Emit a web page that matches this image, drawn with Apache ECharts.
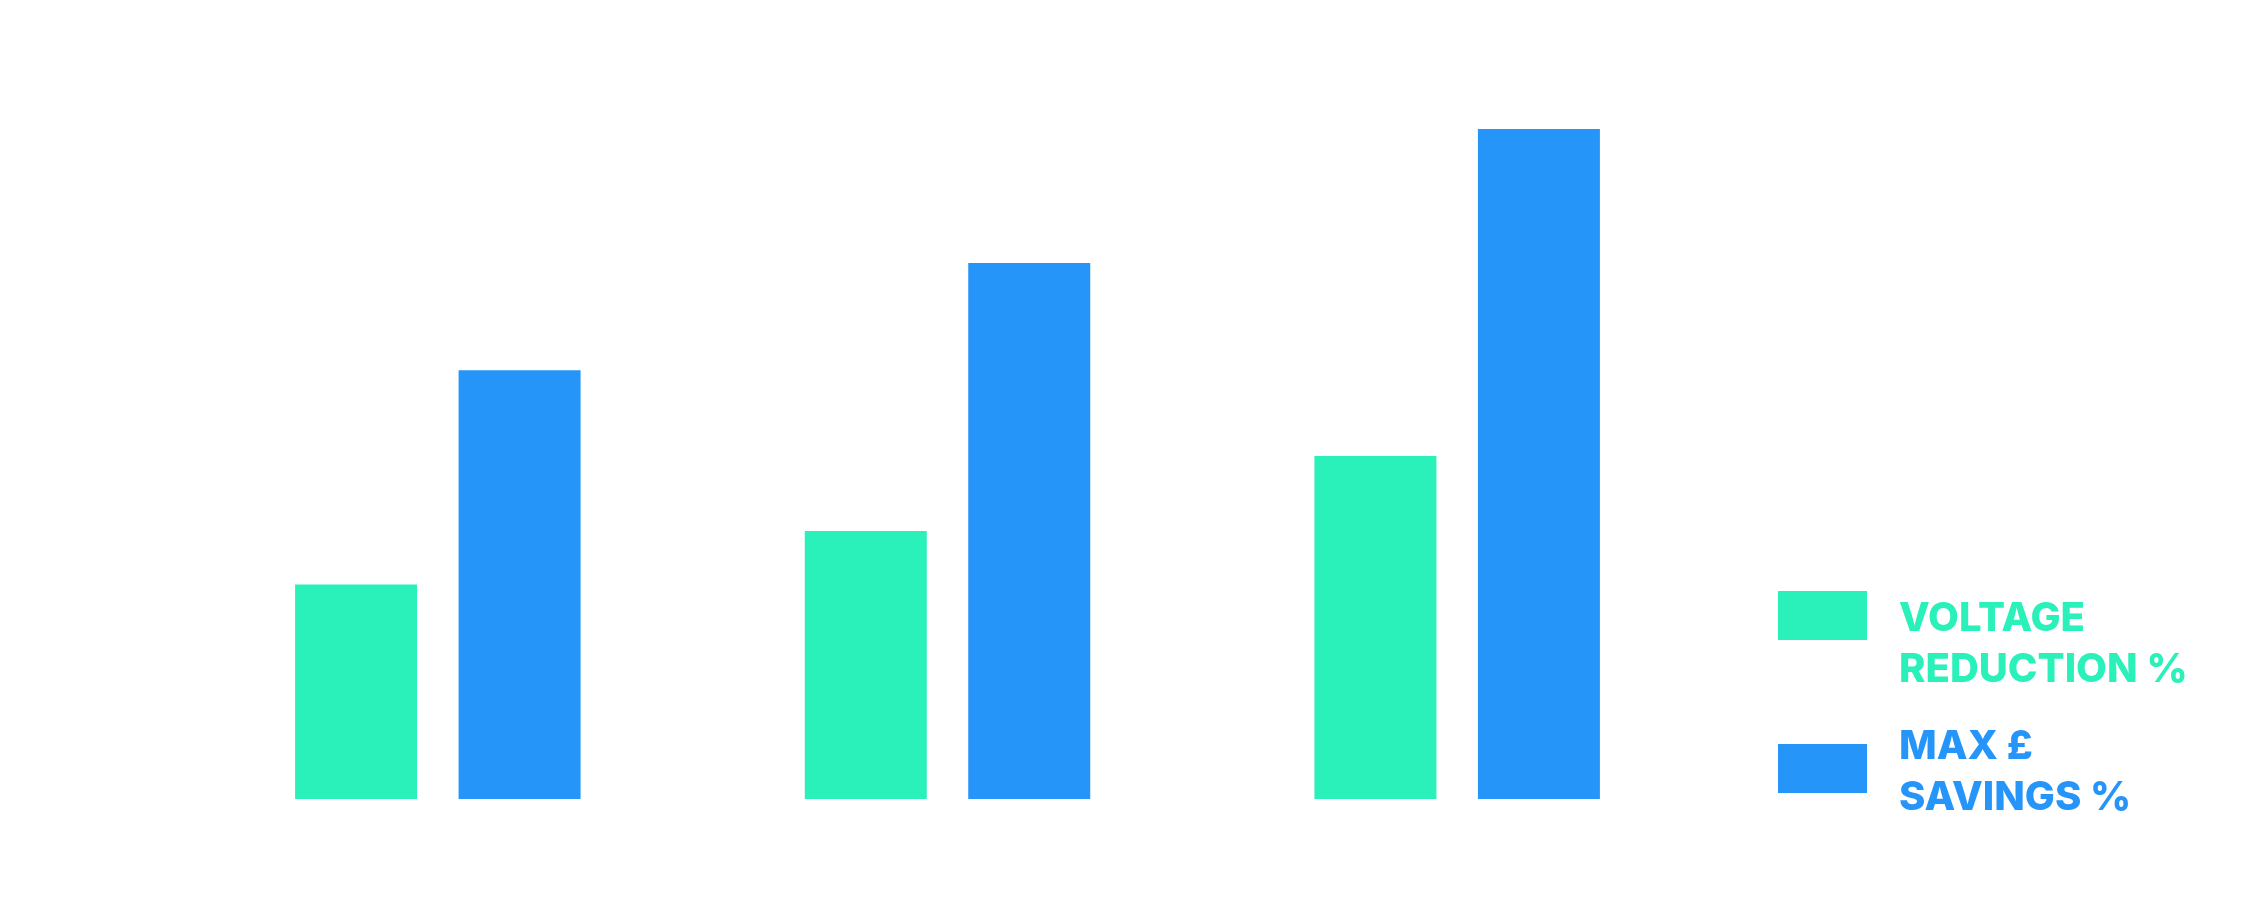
<!DOCTYPE html>
<html>
<head>
<meta charset="utf-8">
<script src="https://cdn.jsdelivr.net/npm/echarts@6/dist/echarts.min.js"></script>
<style>
  html, body { margin: 0; padding: 0; background: #fff; }
  #chart { width: 2246px; height: 901px; }
</style>
</head>
<body>
<div id="chart"></div>
<script>
// data
const categories = ['A', 'B', 'C'];
const voltageReduction = [8, 10, 12.8];
const maxSavings = [16, 20, 25];
const seriesNames = ['VOLTAGE\nREDUCTION %', 'MAX £\nSAVINGS %'];

const green = '#2AF0B9';
const blue = '#2595FA';

const chart = echarts.init(document.getElementById('chart'));

//legend drawn by hand, box and text are not centred on each other in the original
function legendItem(boxY, textY, color, text) {
	return [{
		type: 'rect',
		shape: { x: 1778, y: boxY, width: 89, height: 49 },
		style: { fill: color }
	}, {
		type: 'text',
		x: 1899,
		y: textY,
		style: {
			text: text,
			fill: color,
			font: '800 40px Inter',
			lineHeight: 51,
			verticalAlign: 'top'
		}
	}];
}

const option = {
	backgroundColor: '#fff',
	animation: false,
	grid: { left: 183, width: 1529, top: 129, bottom: 102 },
	xAxis: {
		type: 'category',
		data: categories,
		axisLine: { show: false },
		axisTick: { show: false },
		axisLabel: { show: false }
	},
	yAxis: {
		type: 'value',
		min: 0,
		max: 25,
		show: false,
		splitLine: { show: false }
	},
	series: [{
		name: seriesNames[0],
		type: 'bar',
		data: voltageReduction,
		barWidth: 122,
		barGap: '34%',
		itemStyle: { color: green }
	}, {
		name: seriesNames[1],
		type: 'bar',
		data: maxSavings,
		barWidth: 122,
		barGap: '34%',
		itemStyle: { color: blue }
	}],
	graphic: [].concat(
		legendItem(591, 593, green, seriesNames[0]),
		legendItem(744, 721, blue, seriesNames[1])
	)
};
chart.setOption(option);
</script>
</body>
</html>
